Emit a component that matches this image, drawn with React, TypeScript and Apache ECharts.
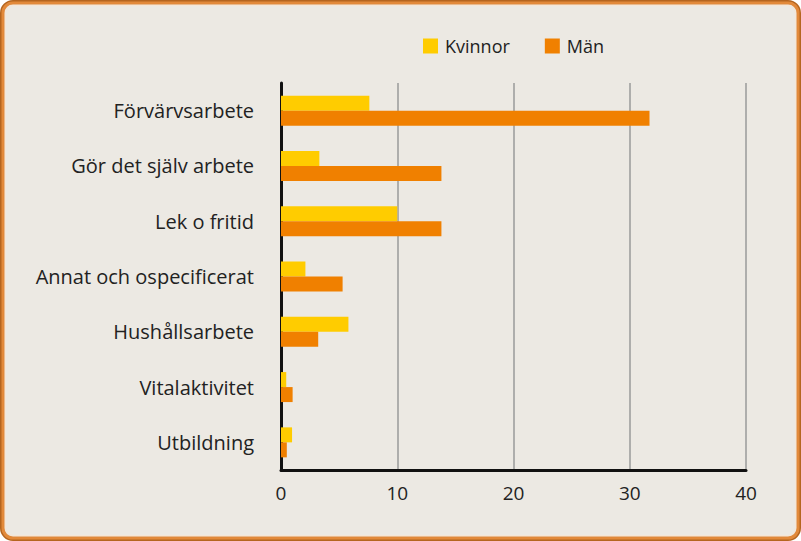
import React, { useEffect, useRef } from "react";
import * as echarts from "echarts";

const categories = [
  "Förvärvsarbete",
  "Gör det själv arbete",
  "Lek o fritid",
  "Annat och ospecificerat",
  "Hushållsarbete",
  "Vitalaktivitet",
  "Utbildning",
];
const kvinnor = [7.6, 3.3, 10.0, 2.1, 5.8, 0.45, 0.95];
const man = [31.7, 13.8, 13.8, 5.3, 3.2, 1.0, 0.5];
const seriesNames = ["Kvinnor", "Män"];

export default function App() {
  const ref = useRef<HTMLDivElement>(null);
  useEffect(() => {
    if (!ref.current) return;
    const chart = echarts.init(ref.current, null, { renderer: "svg" });
    const font = "'Open Sans', Lato, sans-serif";
    chart.setOption({
      animation: false,
      backgroundColor: "#ffffff",
      textStyle: { fontFamily: font },
      graphic: [
        {
          type: "rect",
          z: -10,
          silent: true,
          shape: { x: 1, y: 1, width: 799, height: 539, r: 12 },
          style: { fill: "#ECE9E3", stroke: "#B5651F", lineWidth: 2 },
        },
        {
          type: "rect",
          z: -9,
          silent: true,
          shape: { x: 3, y: 3, width: 795, height: 535, r: 10 },
          style: { fill: "#ECE9E3", stroke: "#E2893A", lineWidth: 3 },
        },
        {
          type: "rect",
          z: -8,
          silent: true,
          shape: { x: 5.5, y: 5.5, width: 790, height: 530, r: 8 },
          style: { fill: "#ECE9E3", stroke: "#F6E6D6", lineWidth: 1 },
        },
      ],
      legend: {
        data: seriesNames,
        icon: "rect",
        left: 418,
        top: 32,
        itemWidth: 15,
        itemHeight: 15,
        itemGap: 35,
        textStyle: { fontSize: 18, color: "#222", fontFamily: font, padding: [0, 0, 0, 2] },
      },
      grid: { left: 281, right: 55, top: 83, bottom: 71, containLabel: false },
      xAxis: {
        type: "value",
        min: 0,
        max: 40,
        interval: 10,
        axisLine: { show: true, lineStyle: { color: "#111", width: 3 } },
        axisTick: { show: false },
        axisLabel: { fontSize: 19, color: "#222", margin: 13, fontFamily: font },
        splitLine: { show: true, lineStyle: { color: "#9a9a9a", width: 1.5 } },
      },
      yAxis: {
        type: "category",
        data: categories,
        inverse: true,
        axisLine: { show: true, lineStyle: { color: "#111", width: 3 } },
        axisTick: { show: false },
        axisLabel: { fontSize: 20, color: "#222", margin: 27, fontFamily: font },
        splitLine: { show: false },
      },
      series: [
        {
          name: seriesNames[0],
          type: "bar",
          data: kvinnor,
          barWidth: 15,
          barGap: "0%",
          itemStyle: { color: "#FFCC00" },
        },
        {
          name: seriesNames[1],
          type: "bar",
          data: man,
          barWidth: 15,
          barGap: "0%",
          itemStyle: { color: "#F08000" },
        },
      ],
    });
    return () => chart.dispose();
  }, []);
  return (
    <div style={{ position: "fixed", left: 0, top: 0 }}>
      <div ref={ref} style={{ width: 801, height: 541 }} />
    </div>
  );
}
